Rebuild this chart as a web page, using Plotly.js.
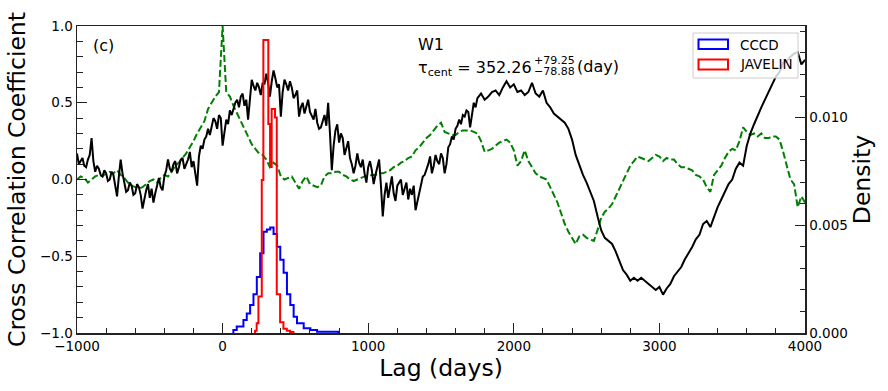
<!DOCTYPE html>
<html>
<head>
<meta charset="utf-8">
<script src="https://cdn.plot.ly/plotly-3.0.1.min.js"></script>
<style>html,body{margin:0;padding:0;background:#fff;}#chart{width:888px;height:391px;}</style>
</head>
<body>
<div id="chart"></div>
<script>
// ---- data ----
// CCF, noisy part: lags -1000 .. 1750, step 12.5 days
const ccfEarlyStart = -1000, ccfEarlyStep = 12.5;
const ccfEarly = [
 0.17,0.10,0.12,0.14,0.09,0.08,0.13,0.16,0.27,0.12,
 0.05,0.09,0.07,0.03,0.02,0.06,0.04,-0.01,0.00,0.05,
 0.03,-0.04,-0.11,0.02,0.13,0.04,-0.02,-0.08,-0.07,-0.02,
 -0.04,-0.10,-0.09,-0.03,-0.05,-0.10,-0.19,-0.12,-0.07,-0.03,
 -0.12,-0.06,-0.15,-0.09,-0.03,0.01,-0.05,-0.07,0.02,0.06,
 0.13,0.07,0.05,0.10,0.12,0.04,0.08,0.13,0.14,0.07,
 0.10,0.13,0.18,0.08,0.12,0.04,-0.04,0.15,0.22,0.20,
 0.26,0.28,0.33,0.29,0.34,0.40,0.38,0.33,0.42,0.40,
 0.22,0.31,0.39,0.36,0.45,0.42,0.47,0.50,0.52,0.47,
 0.54,0.56,0.48,0.52,0.39,0.55,0.65,0.61,0.58,0.63,
 0.60,0.55,0.63,0.62,0.69,0.63,0.54,0.64,0.71,0.66,
 0.60,0.62,0.41,0.57,0.65,0.62,0.58,0.64,0.60,0.53,
 0.55,0.58,0.41,0.47,0.50,0.43,0.48,0.52,0.44,0.41,
 0.39,0.46,0.37,0.33,0.34,0.38,0.42,0.35,0.50,0.30,
 0.06,0.22,0.32,0.36,0.24,0.30,0.27,0.16,0.21,0.25,
 0.14,0.10,0.04,0.09,0.17,0.11,0.08,0.13,0.04,-0.02,
 0.08,0.12,0.06,-0.03,0.03,0.08,0.13,-0.04,-0.24,-0.10,
 -0.02,-0.12,-0.05,0.02,-0.09,-0.14,-0.04,-0.02,0.00,-0.10,
 -0.06,-0.02,-0.13,-0.06,-0.10,-0.04,-0.20,-0.15,-0.09,-0.05,
 0.02,0.03,0.06,0.10,0.15,0.04,0.09,0.16,0.12,0.10,
 0.17,0.14,0.04,0.10,0.21,0.23,0.28,0.26,0.33,0.35,
 0.39,0.36,0.42,0.41,0.45,0.44,0.34,0.42,0.50,0.47,
 0.53
];
// CCF, smoother part: lags 1775 .. 4000, step 25 days
const ccfLateStart = 1775, ccfLateStep = 25;
const ccfLate = [
 0.56,0.52,0.54,0.57,0.58,0.55,0.60,0.64,0.60,
 0.62,0.57,0.58,0.55,0.57,0.63,0.56,0.54,0.58,0.50,
 0.47,0.43,0.41,0.39,0.37,0.33,0.26,0.16,0.09,0.03,
 -0.02,-0.08,-0.14,-0.24,-0.33,-0.38,-0.40,-0.42,-0.47,-0.53,
 -0.59,-0.62,-0.66,-0.64,-0.66,-0.64,-0.66,-0.68,-0.70,-0.72,
 -0.70,-0.75,-0.71,-0.68,-0.63,-0.60,-0.57,-0.52,-0.48,-0.44,
 -0.39,-0.36,-0.29,-0.27,-0.31,-0.24,-0.18,-0.13,-0.08,-0.03,
 0.00,0.07,0.11,0.09,0.22,0.30,0.36,0.42,0.47,0.52,
 0.57,0.63,0.67,0.70,0.76,0.77,0.80,0.82,0.83,0.75,
 0.78
];

// ACF: lags -1000 .. 4000, step 25 days
const acfStart = -1000, acfStep = 25;
const acfW1 = [
 0.00,0.02,0.01,-0.02,0.00,0.02,0.03,0.02,0.04,0.05,
 0.04,0.06,0.03,0.01,-0.02,-0.04,-0.05,-0.06,-0.05,-0.03,
 -0.01,0.00,-0.02,0.01,0.03,0.02,0.05,0.09,0.11,0.14,
 0.17,0.21,0.25,0.30,0.34,0.38,0.46,0.50,0.54,0.57,
 1.00,0.57,0.54,0.48,0.43,0.38,0.33,0.27,0.23,0.20,
 0.17,0.16,0.13,0.08,0.11,0.09,0.02,0.00,0.01,0.02,
 -0.02,-0.06,-0.01,0.02,-0.03,-0.04,-0.05,-0.04,0.02,0.04,
 0.04,0.05,0.05,0.03,0.02,0.00,-0.01,0.00,0.01,0.02,
 0.02,0.03,0.03,0.04,0.04,0.05,0.06,0.08,0.09,0.11,
 0.12,0.14,0.15,0.19,0.21,0.24,0.27,0.29,0.32,0.35,
 0.37,0.31,0.30,0.29,0.29,0.31,0.32,0.32,0.32,0.31,
 0.30,0.25,0.18,0.19,0.20,0.22,0.24,0.25,0.26,0.24,
 0.19,0.09,0.12,0.19,0.12,0.08,0.04,0.02,0.01,0.00,
 -0.05,-0.10,-0.15,-0.22,-0.29,-0.34,-0.38,-0.42,-0.37,-0.36,
 -0.38,-0.39,-0.40,-0.33,-0.25,-0.21,-0.19,-0.16,-0.11,-0.06,
 -0.01,0.04,0.09,0.12,0.15,0.14,0.13,0.12,0.14,0.16,
 0.15,0.12,0.14,0.13,0.13,0.10,0.08,0.08,0.07,0.06,
 0.03,0.02,0.00,-0.05,-0.08,0.03,0.06,0.09,0.14,0.18,
 0.20,0.19,0.25,0.34,0.31,0.29,0.30,0.28,0.30,0.27,
 0.27,0.28,0.28,0.26,0.18,0.08,0.00,-0.03,-0.18,-0.11,
 -0.15
];

// CCCD centroid distribution (bin edges in days, densities)
const cccdEdges = [74,97,120,143,166,189,212,235,258,281,304,327,350,373,396,419,442,465,488,511,534,557,580,603,626,649,672,695,718,741,764,795];
const cccdDensity = [0.00014,0.0003,0.0003,0.0006,0.0009,0.0013,0.0018,0.0026,0.0037,0.0047,0.0048,0.0049,0.0046,0.0040,0.0034,0.0028,0.0018,0.0013,0.00076,0.00045,0.00045,0.00022,0.00022,0.00014,0.00014,0.00006,0.00006,0.00006,0.00006,0.00006,0.00006];

// JAVELIN lag distribution
const javEdges = [223,234,246,257,269,280,292,303,314,326,337,349,360,372,383,395,406,418,429,441,452,464,475,487];
const javDensity = [0.0001,0.00045,0.0017,0.0017,0.0071,0.0136,0.0136,0.0136,0.0097,0.0077,0.0104,0.0104,0.0100,0.0018,0.0018,0.0005,0.0005,0.0002,0.0002,0.0001,0.0001,0.00005,0.00005];

const legendLabels = ["CCCD", "JAVELIN"];
const bandLabel = "W1";
const tauCent = "352.26", tauUp = "+79.25", tauLo = "\u221278.88";
const panelLabel = "(c)";

// ---- build ----
const ccfLags = ccfEarly.map((_, i) => ccfEarlyStart + i * ccfEarlyStep)
  .concat(ccfLate.map((_, i) => ccfLateStart + i * ccfLateStep));
const ccfVals = ccfEarly.concat(ccfLate);
const acfLags = acfW1.map((_, i) => acfStart + i * acfStep);

function stepXY(edges, h) {
  const x = [edges[0]], y = [0];
  for (let i = 0; i < h.length; i++) { x.push(edges[i], edges[i+1]); y.push(h[i], h[i]); }
  x.push(edges[edges.length-1]); y.push(0);
  return {x, y};
}
const bs = stepXY(cccdEdges, cccdDensity);
const rs = stepXY(javEdges, javDensity);

const FONT = "DejaVu Sans, Arial, sans-serif";
const traces = [
  {x: acfLags, y: acfW1, type: 'scatter', mode: 'lines', line: {color: '#008000', width: 2, dash: '7px,3px'}, hoverinfo: 'skip'},
  {x: ccfLags, y: ccfVals, type: 'scatter', mode: 'lines', line: {color: '#000000', width: 2}, hoverinfo: 'skip'},
  {x: bs.x, y: bs.y, yaxis: 'y2', type: 'scatter', mode: 'lines', line: {color: '#0000ff', width: 2}, hoverinfo: 'skip'},
  {x: rs.x, y: rs.y, yaxis: 'y2', type: 'scatter', mode: 'lines', line: {color: '#ff0000', width: 2}, hoverinfo: 'skip'}
];

// plot area in pixels
const L = 77, R = 805, T = 26, B = 333;
const px = v => (v - L) / (R - L);
const py = v => (B - v) / (B - T);

const axCommon = {
  ticks: 'inside', ticklen: 10, tickwidth: 1.2, tickcolor: '#222',
  showgrid: false, zeroline: false, showline: true, linecolor: '#222', linewidth: 1.5,
  tickfont: {family: FONT, size: 13.5, color: '#000'}, automargin: false
};
const minorCommon = {ticks: 'inside', ticklen: 5.5, tickwidth: 1, tickcolor: '#222', showgrid: false};

const layout = {
  width: 888, height: 391,
  margin: {l: L, r: 888 - R, t: T, b: 391 - B, pad: 0},
  paper_bgcolor: '#fff', plot_bgcolor: '#fff',
  showlegend: false,
  font: {family: FONT, color: '#000'},
  xaxis: Object.assign({}, axCommon, {
    range: [-1000, 4000], tick0: 0, dtick: 1000, mirror: true,
    minor: Object.assign({}, minorCommon, {tick0: 0, dtick: 200}),
    title: {text: 'Lag (days)', font: {family: FONT, size: 23.5}, standoff: 4}
  }),
  yaxis: Object.assign({}, axCommon, {
    range: [-1, 1], tick0: 0, dtick: 0.5, tickformat: '.1f', mirror: true,
    minor: Object.assign({}, minorCommon, {tick0: 0, dtick: 0.1}),
    title: {text: 'Cross Correlation Coefficient', font: {family: FONT, size: 23.5}, standoff: 8}
  }),
  yaxis2: Object.assign({}, axCommon, {
    overlaying: 'y', side: 'right', anchor: 'x',
    range: [0, 0.01425], tick0: 0, dtick: 0.005, tickformat: '.3f',
    minor: Object.assign({}, minorCommon, {tick0: 0, dtick: 0.001}),
    title: {text: 'Density', font: {family: FONT, size: 23.5}, standoff: 6}
  }),
  shapes: [
    {type: 'rect', xref: 'paper', yref: 'paper', x0: px(693), x1: px(798), y0: py(78), y1: py(33),
     line: {color: '#cccccc', width: 1}, fillcolor: 'rgba(255,255,255,0.8)', layer: 'above'},
    {type: 'rect', xref: 'paper', yref: 'paper', x0: px(698.5), x1: px(728), y0: py(49), y1: py(39.5),
     line: {color: '#0000ff', width: 2}, fillcolor: 'rgba(0,0,0,0)', layer: 'above'},
    {type: 'rect', xref: 'paper', yref: 'paper', x0: px(698.5), x1: px(728), y0: py(69.5), y1: py(59.5),
     line: {color: '#ff0000', width: 2}, fillcolor: 'rgba(0,0,0,0)', layer: 'above'}
  ],
  annotations: [
    {text: legendLabels[0], xref: 'paper', yref: 'paper', x: px(737.5), y: py(44.5), xanchor: 'left', yanchor: 'middle', showarrow: false, font: {family: FONT, size: 13.5}},
    {text: legendLabels[1], xref: 'paper', yref: 'paper', x: px(737.5), y: py(64.5), xanchor: 'left', yanchor: 'middle', showarrow: false, font: {family: FONT, size: 13.5}},
    {text: panelLabel, xref: 'paper', yref: 'paper', x: px(91), y: py(45), xanchor: 'left', yanchor: 'middle', showarrow: false, font: {family: FONT, size: 16}},
    {text: bandLabel, xref: 'paper', yref: 'paper', x: px(415.5), y: py(44), xanchor: 'left', yanchor: 'middle', showarrow: false, font: {family: FONT, size: 16}},
    {text: 'τ<sub>cent</sub> = ' + tauCent, xref: 'paper', yref: 'paper', x: px(415.5), y: py(69), xanchor: 'left', yanchor: 'middle', showarrow: false, font: {family: FONT, size: 16}},
    {text: tauUp, xref: 'paper', yref: 'paper', x: px(532), y: py(60.5), xanchor: 'left', yanchor: 'middle', showarrow: false, font: {family: FONT, size: 11}},
    {text: tauLo, xref: 'paper', yref: 'paper', x: px(532), y: py(72), xanchor: 'left', yanchor: 'middle', showarrow: false, font: {family: FONT, size: 11}},
    {text: '(day)', xref: 'paper', yref: 'paper', x: px(574.5), y: py(67), xanchor: 'left', yanchor: 'middle', showarrow: false, font: {family: FONT, size: 16}}
  ]
};

Plotly.newPlot('chart', traces, layout, {displayModeBar: false, staticPlot: true});
</script>
</body>
</html>
